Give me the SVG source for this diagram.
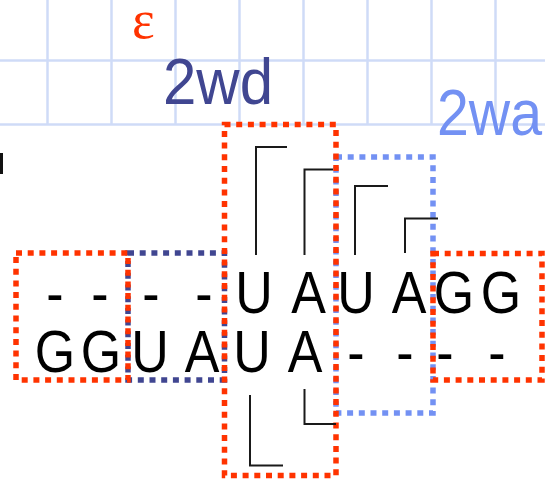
<svg xmlns="http://www.w3.org/2000/svg" width="545" height="479" viewBox="0 0 545 479">
  <style>
    .grid { stroke: #cfdbf7; stroke-width: 2.5; fill: none; }
    .box { fill: none; stroke-width: 5.5; stroke-dasharray: 6 5.7; }
    .red { stroke: #ff3300; }
    .dblue { stroke: #404691; }
    .lblue { stroke: #7391f3; }
    .seq { font-family: "Liberation Sans", Arial, sans-serif; font-size: 59px; fill: #000; text-anchor: middle; }
    .lbl { font-family: "Liberation Sans", Arial, sans-serif; font-size: 65px; }
    .br { stroke: #1a1a1a; stroke-width: 2; fill: none; }
  </style>
  <rect width="545" height="479" fill="#fff"/>
  <g id="grid" class="grid">
    <path d="M0 60.5H545M0 124.5H545"/>
    <path d="M47.5 0V125M111.5 0V125M175.5 0V125M239.5 0V125M303.5 0V125M367.5 0V125M431.5 0V125M495.5 0V125"/>
  </g>
  <rect x="0" y="153" width="3" height="21" fill="#111"/>
  <g id="labels">
    <text id="epsilon" x="132" y="38" font-family="'Liberation Serif', 'Times New Roman', serif" font-size="54" fill="#ff3300">ε</text>
    <text id="label-2wd" class="lbl" x="163" y="103.5" fill="#404691" textLength="110" lengthAdjust="spacingAndGlyphs">2wd</text>
    <text id="label-2wa" class="lbl" x="437" y="135" fill="#7391f3" textLength="105" lengthAdjust="spacingAndGlyphs">2wa</text>
  </g>
  <g id="boxes">
    <rect id="box-dblue" class="box dblue" x="128" y="253" width="96.5" height="127"/>
    <rect id="box-lblue" class="box lblue" x="336" y="157" width="97" height="256"/>
    <rect id="box-left-red" class="box red" x="16" y="253" width="112" height="127"/>
    <rect id="box-center-red" class="box red" x="224.5" y="124.5" width="111.5" height="351"/>
    <rect id="box-right-red" class="box red" x="433" y="253.5" width="109" height="126.5"/>
  </g>
  <g id="sequence" transform="scale(0.88 1)">
    <g id="row1">
      <text class="seq" x="62.5" y="313">-</text>
      <text class="seq" x="113.6" y="313">-</text>
      <text class="seq" x="171.6" y="313">-</text>
      <text class="seq" x="231.8" y="313">-</text>
      <text class="seq" x="288.6" y="313">U</text>
      <text class="seq" x="350.6" y="313">A</text>
      <text class="seq" x="404.5" y="313">U</text>
      <text class="seq" x="464.8" y="313">A</text>
      <text class="seq" x="515.9" y="313">G</text>
      <text class="seq" x="569.3" y="313">G</text>
    </g>
    <g id="row2">
      <text class="seq" x="62.5" y="372">G</text>
      <text class="seq" x="114.8" y="372">G</text>
      <text class="seq" x="170.5" y="372">U</text>
      <text class="seq" x="229.5" y="372">A</text>
      <text class="seq" x="286.4" y="372">U</text>
      <text class="seq" x="346.6" y="372">A</text>
      <text class="seq" x="404.5" y="372">-</text>
      <text class="seq" x="460.2" y="372">-</text>
      <text class="seq" x="505.7" y="372">-</text>
      <text class="seq" x="564.8" y="372">-</text>
    </g>
  </g>
  <g id="connectors" class="br">
    <path d="M256 255V147H287"/>
    <path d="M304.5 255V169.5H333"/>
    <path d="M355 255V186H388"/>
    <path d="M405 253V218.5H438"/>
    <path d="M250 395V465.5H283"/>
    <path d="M304.5 389V424H336"/>
  </g>
</svg>
